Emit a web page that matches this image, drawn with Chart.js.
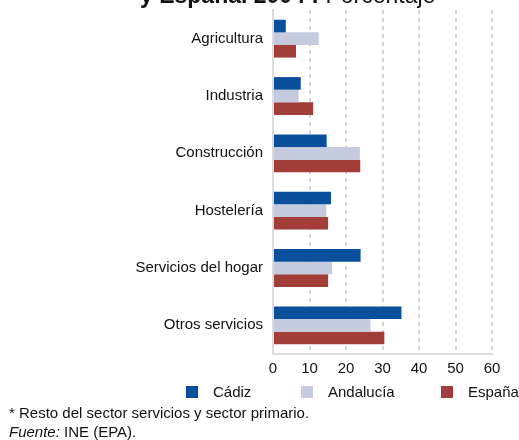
<!DOCTYPE html>
<html>
<head>
    <title>Ocupados por sector</title>
    <script src="https://cdn.jsdelivr.net/npm/chart.js"></script>
    <style>
        body { margin: 0; background: #fff; }
        #wrap { position: relative; width: 519px; height: 440px; overflow: hidden; font-family: "Liberation Sans", Arial, sans-serif; color: #111; }
        #sectorChart { position: absolute; left: 0; top: 0; }
        .leg { position: absolute; top: 383px; font-size: 15px; line-height: 18px; white-space: nowrap; }
        .leg i { position: absolute; width: 12px; height: 12px; top: 3px; }
        .note { position: absolute; left: 9px; font-size: 15px; line-height: 18px; white-space: nowrap; }
    </style>
</head>
<body>
<div id="wrap">
    <canvas id="sectorChart" width="519" height="440"></canvas>

    <div class="leg" style="left:186px"><i style="background:#0a4f9c"></i><span style="margin-left:27px">Cádiz</span></div>
    <div class="leg" style="left:301px"><i style="background:#c4cbdf"></i><span style="margin-left:27px">Andalucía</span></div>
    <div class="leg" style="left:441px"><i style="background:#a23e37"></i><span style="margin-left:27px">España</span></div>

    <div class="note" style="top:404px">* Resto del sector servicios y sector primario.</div>
    <div class="note" style="top:423px"><em>Fuente:</em> INE (EPA).</div>
</div>

<script>
    // Porcentaje de ocupados por sector
    const sectores = ['Agricultura', 'Industria', 'Construcción', 'Hostelería', 'Servicios del hogar', 'Otros servicios'];
    const cadiz = [3.5, 7.6, 14.7, 15.9, 24.0, 35.2];
    const andalucia = [12.5, 7.0, 23.8, 14.6, 16.2, 26.7];
    const espana = [6.3, 11.0, 23.9, 15.1, 15.1, 30.5];
    const xTicks = [0, 10, 20, 30, 40, 50, 60];

    // title sits mostly above the canvas edge, only its bottom shows
    const titlePlugin = {
        id: 'titleText',
        afterDraw(chart) {
            const ctx = chart.ctx;
            ctx.save();
            ctx.fillStyle = '#111';
            ctx.textBaseline = 'alphabetic';
            ctx.font = 'bold 23px "Liberation Sans", Arial, sans-serif';
            const bold = 'y España. 2004 : ';
            ctx.fillText(bold, 140, 3);
            const w = ctx.measureText(bold).width;
            ctx.font = '23px "Liberation Sans", Arial, sans-serif';
            ctx.fillText('Porcentaje', 140 + w, 3);
            ctx.restore();
        }
    };

    const ctx = document.getElementById('sectorChart').getContext('2d');
    new Chart(ctx, {
        type: 'bar',
        data: {
            labels: sectores,
            datasets: [
                { label: 'Cádiz', data: cadiz, backgroundColor: '#0a4f9c' },
                { label: 'Andalucía', data: andalucia, backgroundColor: '#c4cbdf' },
                { label: 'España', data: espana, backgroundColor: '#a23e37' }
            ]
        },
        options: {
            indexAxis: 'y',
            responsive: false,
            animation: false,
            layout: { padding: { left: 0, top: 10, right: 27, bottom: 56 } },
            datasets: {
                bar: { categoryPercentage: 0.66, barPercentage: 1.0, borderWidth: 0 }
            },
            plugins: {
                legend: { display: false },
                tooltip: { enabled: false }
            },
            scales: {
                x: {
                    min: 0,
                    max: 60,
                    afterFit: scale => { scale.height = 30; },
                    afterBuildTicks: scale => { scale.ticks = xTicks.map(v => ({ value: v })); },
                    ticks: {
                        padding: 6,
                        color: '#111',
                        font: { family: '"Liberation Sans", Arial, sans-serif', size: 15 }
                    },
                    grid: {
                        color: ctx => ctx.tick && ctx.tick.value === 0 ? 'rgba(0,0,0,0)' : '#d4d4d4',
                        lineWidth: 2,
                        drawTicks: false
                    },
                    border: { display: true, color: '#dcdcdc', width: 2, dash: [4, 4] }
                },
                y: {
                    afterFit: scale => {
                        scale.width = 273;
                        scale.paddingTop = 0;
                        scale.paddingBottom = 0;
                    },
                    ticks: {
                        padding: 10,
                        color: '#111',
                        font: { family: '"Liberation Sans", Arial, sans-serif', size: 15 }
                    },
                    grid: { display: false, drawTicks: false },
                    border: { display: true, color: '#dcdcdc', width: 2 }
                }
            }
        },
        plugins: [titlePlugin]
    });
</script>
</body>
</html>
